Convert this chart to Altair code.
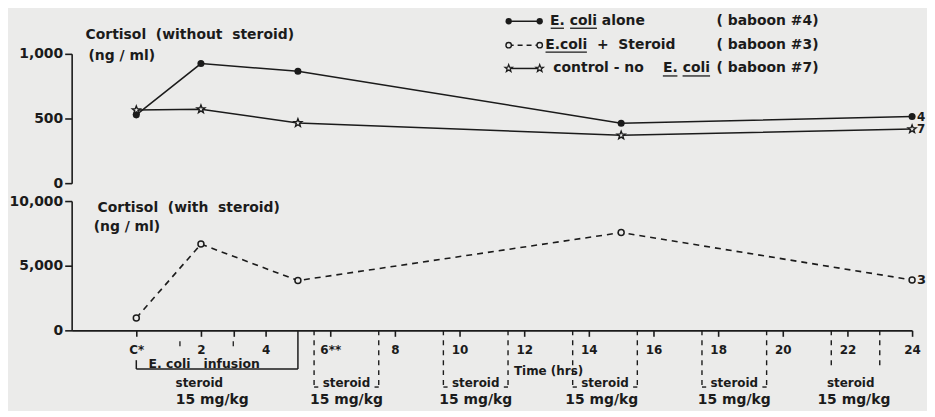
import altair as alt
import pandas as pd

# ---------------- data ----------------
hours = [0, 2, 5, 15, 24]
ecoli_alone = [528, 925, 865, 464, 515]        # baboon #4 (filled circles)
control_no_ecoli = [565, 572, 465, 370, 418]   # baboon #7 (stars)
ecoli_steroid = [950, 6670, 3850, 7560, 3900]  # baboon #3 (open circles, dashed)

end_label_alone = "4"
end_label_control = "7"
end_label_steroid = "3"

x_tick_values = [0, 2, 3, 4, 6, 8, 10, 12, 14, 16, 18, 20, 22, 24]
x_tick_labels = ["\u00a0C*", "2", "", "4", "\u00a0\u00a06**", "8", "10", "12", "14", "16", "18", "20", "22", "24"]
top_y_ticks = [0, 500, 1000]
top_y_labels = ["0", "500", "1,000"]
bottom_y_ticks = [0, 5000, 10000]
bottom_y_labels = ["0", "5,000", "10,000"]

legend_texts = ["E. coli alone", "E.coli\u00a0\u00a0+\u00a0\u00a0Steroid", "control - no\u00a0\u00a0\u00a0\u00a0E. coli"]
legend_baboons = ["(\u00a0baboon #4)", "(\u00a0baboon #3)", "(\u00a0baboon #7)"]

steroid_start = [5.5, 9.5, 13.5, 17.5, 21.5]
steroid_end = [7.5, 11.5, 15.5, 19.5, 23]
infusion_start = 0
infusion_end = 5

# ---------------- layout / annotation positions (data units) ----------------
BG = "#ebebea"
INK = "#1b1b1b"
FONT = "DejaVu Sans"
W, H = 845, 130

X_SCALE = alt.Scale(domain=[-2, 24], nice=False, zero=False)
TOP_SCALE = alt.Scale(domain=[0, 1000], nice=False, zero=False)
BOT_SCALE = alt.Scale(domain=[0, 10000], nice=False, zero=False)

STAR = ("M0,-1L0.247,-0.34L0.951,-0.309L0.399,0.13L0.588,0.809L0,0.42"
        "L-0.588,0.809L-0.399,0.13L-0.951,-0.309L-0.247,-0.34Z")

legend_rows_y = [1252, 1067, 887]
legend_sym_x = [11.52, 12.48]
legend_text_x = [12.8, 12.65, 12.9]
legend_baboon_x = 17.95
underline_rows = [  # x1, x2, y
    (12.82, 13.23, 1198), (13.42, 14.25, 1198),
    (12.66, 13.94, 1013),
    (16.29, 16.74, 829), (16.90, 17.75, 829),
]

top_titles = [("Cortisol\u00a0\u00a0(without\u00a0\u00a0steroid)", -1.57, 1146),
              ("(ng / ml)", -1.48, 985)]
bottom_titles = [("Cortisol\u00a0\u00a0(with\u00a0\u00a0steroid)", -1.2, 9423),
                 ("(ng / ml)", -1.32, 7962)]

dash_bottom = [-4385, -4385, -4385, -4385, -2700]
corner_len = 0.13
bracket_y = -2990
bracket_tick_top = -2308
infusion_label = ("E.\u00a0coli\u00a0\u00a0\u00a0infusion", 2.1, -2885)
steroid_label_x = [1.95, 6.5, 10.5, 14.5, 18.5, 22.1]
steroid_label_y = -4077
dose_label_x = [2.35, 6.5, 10.5, 14.4, 18.5, 22.2]
dose_label_y = -5385
minor_marks_x = [1.35, 3.0]
minor_marks_y = (-846, -1231)


def label_expr(values, labels):
    return " : ".join(f"datum.value == {v} ? '{l}'" for v, l in zip(values, labels)) + " : ''"


axis_style = dict(grid=False, domainColor=INK, tickColor=INK, labelColor=INK,
                  labelFont=FONT, labelFontWeight="bold", domainWidth=1.6,
                  tickWidth=1.6, labelFlush=False, labelOverlap=False)

top_axis = alt.Axis(values=top_y_ticks, labelExpr=label_expr(top_y_ticks, top_y_labels), title=None,
                    tickSize=7, labelPadding=2, labelFontSize=14, **axis_style)
bot_axis = alt.Axis(values=bottom_y_ticks, labelExpr=label_expr(bottom_y_ticks, bottom_y_labels), title=None,
                    tickSize=7, labelPadding=2, labelFontSize=14, **axis_style)

x_axis = alt.Axis(values=x_tick_values, labelExpr=label_expr(x_tick_values, x_tick_labels), title="Time (hrs)",
                  tickSize=6, labelPadding=8, labelFontSize=12,
                  titleFont=FONT, titleFontSize=12, titleFontWeight="bold", titleColor=INK,
                  titleX=479, titleY=40, titleAlign="center", titleBaseline="middle",
                  **axis_style)


def enc_top(xf, yf):
    return dict(x=alt.X(f"{xf}:Q", scale=X_SCALE, axis=None),
                y=alt.Y(f"{yf}:Q", scale=TOP_SCALE, axis=top_axis))


def enc_bot(xf, yf):
    return dict(x=alt.X(f"{xf}:Q", scale=X_SCALE, axis=x_axis),
                y=alt.Y(f"{yf}:Q", scale=BOT_SCALE, axis=bot_axis))


def text_layer(df, size=14, align="left", baseline="middle", dx=0):
    return alt.Chart(df).mark_text(font=FONT, fontSize=size, fontWeight="bold", align=align,
                                   baseline=baseline, color=INK, dx=dx)


# ---------------- top panel ----------------
top_df = pd.DataFrame({"hour": hours, "alone": ecoli_alone, "control": control_no_ecoli})

t_line_alone = alt.Chart(top_df).mark_line(color=INK, strokeWidth=1.5).encode(**enc_top("hour", "alone"))
t_line_ctrl = alt.Chart(top_df).mark_line(color=INK, strokeWidth=1.5).encode(**enc_top("hour", "control"))
t_pts_alone = alt.Chart(top_df).mark_point(shape="circle", filled=True, color=INK, size=50, opacity=1).encode(
    **enc_top("hour", "alone"))
t_pts_ctrl = alt.Chart(top_df).mark_point(shape=STAR, filled=True, fill=BG, stroke=INK, strokeWidth=1.4,
                                          size=70, opacity=1).encode(**enc_top("hour", "control"))

end_top = pd.DataFrame({"hour": [hours[-1], hours[-1]],
                        "v": [ecoli_alone[-1], control_no_ecoli[-1]],
                        "t": [end_label_alone, end_label_control]})
t_end = text_layer(end_top, size=12, dx=5).encode(text="t:N", **enc_top("hour", "v"))

tt_df = pd.DataFrame(top_titles, columns=["t", "hour", "v"])
t_titles = text_layer(tt_df, size=14).encode(text="t:N", **enc_top("hour", "v"))

# legend drawn by hand (symbol - line - symbol, label, baboon number)
leg_df = pd.DataFrame({"x1": [legend_sym_x[0]] * 3, "x2": [legend_sym_x[1]] * 3, "v": legend_rows_y,
                       "kind": ["alone", "steroid", "control"],
                       "t": legend_texts, "tx": legend_text_x,
                       "b": legend_baboons, "bx": [legend_baboon_x] * 3})
leg_solid = alt.Chart(leg_df).transform_filter("datum.kind != 'steroid'").mark_rule(
    color=INK, strokeWidth=1.5).encode(x2=alt.X2("x2:Q"), **enc_top("x1", "v"))
leg_dash = alt.Chart(leg_df).transform_filter("datum.kind == 'steroid'").mark_rule(
    color=INK, strokeWidth=1.5, strokeDash=[5, 4]).encode(x2=alt.X2("x2:Q"), **enc_top("x1", "v"))

leg_pts_df = pd.DataFrame({"x": legend_sym_x * 3,
                           "v": [legend_rows_y[0]] * 2 + [legend_rows_y[1]] * 2 + [legend_rows_y[2]] * 2,
                           "kind": ["alone"] * 2 + ["steroid"] * 2 + ["control"] * 2})
leg_p1 = alt.Chart(leg_pts_df).transform_filter("datum.kind == 'alone'").mark_point(
    shape="circle", filled=True, color=INK, size=40, opacity=1).encode(**enc_top("x", "v"))
leg_p2 = alt.Chart(leg_pts_df).transform_filter("datum.kind == 'steroid'").mark_point(
    shape="circle", filled=True, fill=BG, stroke=INK, strokeWidth=1.4, size=30, opacity=1).encode(
    **enc_top("x", "v"))
leg_p3 = alt.Chart(leg_pts_df).transform_filter("datum.kind == 'control'").mark_point(
    shape=STAR, filled=True, fill=BG, stroke=INK, strokeWidth=1.3, size=60, opacity=1).encode(
    **enc_top("x", "v"))
leg_text = text_layer(leg_df, size=14).encode(text="t:N", **enc_top("tx", "v"))
leg_bab = text_layer(leg_df, size=14).encode(text="b:N", **enc_top("bx", "v"))
ul_df = pd.DataFrame(underline_rows, columns=["x1", "x2", "v"])
leg_ul = alt.Chart(ul_df).mark_rule(color=INK, strokeWidth=1.3).encode(
    x2=alt.X2("x2:Q"), **enc_top("x1", "v"))

top = alt.layer(t_line_alone, t_line_ctrl, t_pts_alone, t_pts_ctrl, t_end, t_titles,
                leg_solid, leg_dash, leg_p1, leg_p2, leg_p3, leg_text, leg_bab, leg_ul
                ).properties(width=W, height=H)

# ---------------- bottom panel ----------------
bot_df = pd.DataFrame({"hour": hours, "steroid": ecoli_steroid})
b_line = alt.Chart(bot_df).mark_line(color=INK, strokeWidth=1.6, strokeDash=[6, 5]).encode(
    **enc_bot("hour", "steroid"))
b_pts = alt.Chart(bot_df).mark_point(shape="circle", filled=True, fill=BG, stroke=INK, strokeWidth=1.5,
                                     size=36, opacity=1).encode(**enc_bot("hour", "steroid"))
end_bot = pd.DataFrame({"hour": [hours[-1]], "v": [ecoli_steroid[-1]], "t": [end_label_steroid]})
b_end = text_layer(end_bot, size=13, dx=5).encode(text="t:N", **enc_bot("hour", "v"))

bt_df = pd.DataFrame(bottom_titles, columns=["t", "hour", "v"])
b_titles = text_layer(bt_df, size=14).encode(text="t:N", **enc_bot("hour", "v"))

# steroid dosing windows (dashed verticals below the axis)
dash_rows = []
for s, e, yb in zip(steroid_start, steroid_end, dash_bottom):
    dash_rows.append({"x": s, "v0": 0, "v1": yb})
    dash_rows.append({"x": e, "v0": 0, "v1": yb})
dash_df = pd.DataFrame(dash_rows)
b_dash = alt.Chart(dash_df).mark_rule(color=INK, strokeWidth=1.4, strokeDash=[5, 5]).encode(
    y2=alt.Y2("v1:Q"), **enc_bot("x", "v0"))

corner_rows = []
for s, e, yb in zip(steroid_start[:4], steroid_end[:4], dash_bottom[:4]):
    corner_rows.append({"x1": s, "x2": s + corner_len, "v": yb})
    corner_rows.append({"x1": e - corner_len, "x2": e, "v": yb})
corner_df = pd.DataFrame(corner_rows)
b_corner = alt.Chart(corner_df).mark_rule(color=INK, strokeWidth=1.4).encode(
    x2=alt.X2("x2:Q"), **enc_bot("x1", "v"))

# E. coli infusion bracket
br_h = pd.DataFrame({"x1": [infusion_start], "x2": [infusion_end], "v": [bracket_y]})
b_br_h = alt.Chart(br_h).mark_rule(color=INK, strokeWidth=1.5).encode(
    x2=alt.X2("x2:Q"), **enc_bot("x1", "v"))
br_v = pd.DataFrame({"x": [infusion_start, infusion_end], "v0": [bracket_tick_top, 0],
                     "v1": [bracket_y, bracket_y]})
b_br_v = alt.Chart(br_v).mark_rule(color=INK, strokeWidth=1.5).encode(
    y2=alt.Y2("v1:Q"), **enc_bot("x", "v0"))

minor_df = pd.DataFrame({"x": minor_marks_x, "v0": [minor_marks_y[0]] * 2, "v1": [minor_marks_y[1]] * 2})
b_minor = alt.Chart(minor_df).mark_rule(color=INK, strokeWidth=1.3).encode(
    y2=alt.Y2("v1:Q"), **enc_bot("x", "v0"))

inf_df = pd.DataFrame([infusion_label], columns=["t", "hour", "v"])
b_inf = text_layer(inf_df, size=12.5, align="center", baseline="alphabetic").encode(
    text="t:N", **enc_bot("hour", "v"))

st_df = pd.DataFrame({"hour": steroid_label_x, "v": [steroid_label_y] * len(steroid_label_x),
                      "t": ["steroid"] * len(steroid_label_x)})
b_st = text_layer(st_df, size=12, align="center").encode(text="t:N", **enc_bot("hour", "v"))
dose_df = pd.DataFrame({"hour": dose_label_x, "v": [dose_label_y] * len(dose_label_x),
                        "t": ["15 mg/kg"] * len(dose_label_x)})
b_dose = text_layer(dose_df, size=14, align="center").encode(text="t:N", **enc_bot("hour", "v"))

bottom = alt.layer(b_line, b_pts, b_end, b_titles, b_dash, b_corner, b_br_h, b_br_v, b_minor,
                   b_inf, b_st, b_dose).properties(width=W, height=H)

chart = alt.vconcat(top, bottom, spacing=18, bounds="flush").configure_view(
    stroke=None).properties(background=BG, padding={"left": 0, "top": 5, "right": 0, "bottom": 2})

chart.save("out.html", embed_options={"renderer": "svg", "actions": False})
